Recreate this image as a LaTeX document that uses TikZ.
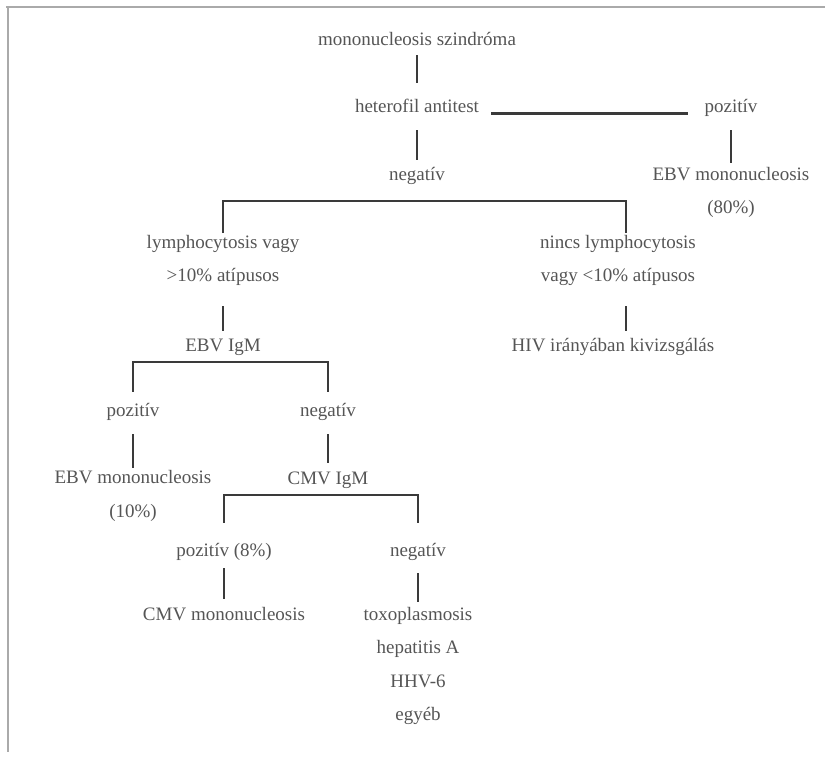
\documentclass[tikz,border=0pt]{standalone}
\usepackage{fontspec}
\setmainfont{Liberation Serif}
\definecolor{txtgrey}{HTML}{555555}
\definecolor{inkgrey}{HTML}{3A3A3A}
\definecolor{rulegrey}{HTML}{AAAAAA}

\begin{document}
\begin{tikzpicture}[x=1pt,y=-1pt,
  lbl/.style={inner sep=0pt,text=txtgrey,font=\fontsize{19}{33.5}\selectfont,
    text height=13pt,text depth=4pt,anchor=base},
  multi/.style={inner sep=0pt,text=txtgrey,font=\fontsize{19}{33.5}\selectfont,
    align=center,anchor=base},
  link/.style={draw=inkgrey,line width=1.8pt,shorten <=13pt,shorten >=8pt},
  fork/.style={draw=inkgrey,line width=2.2pt,shorten <=#1,shorten >=#1},
  hbar/.style={draw=inkgrey,line width=2.6pt,shorten <=12pt,shorten >=16pt}]
  \useasboundingbox (0,0) rectangle (825,759);
  % frame
  \draw[rulegrey,line width=1.6pt] (6,7) -- (825,7);
  \draw[rulegrey,line width=1.6pt] (8,7) -- (8,752);

  % multi-line nodes sit on the baseline of their last line
  \node[lbl]   (mono)    at (417,46)  {mononucleosis szindróma};
  \node[lbl]   (het)     at (417,113) {heterofil antitest};
  \node[lbl]   (poz1)    at (731,113) {pozitív};
  \node[lbl]   (neg1)    at (417,181) {negatív};
  \node[multi] (ebv1)    at (731,214) {EBV mononucleosis\\(80\%)};
  \node[multi] (ly1)     at (223,282) {lymphocytosis vagy\\>10\% atípusos};
  \node[multi] (ly2)     at (618,282) {nincs lymphocytosis\\vagy <10\% atípusos};
  \node[lbl]   (ebvigm)  at (223,352) {EBV IgM};
  \node[lbl]   (hiv)     at (613,352) {HIV irányában kivizsgálás};
  \node[lbl]   (poz2)    at (133,417) {pozitív};
  \node[lbl]   (neg2)    at (328,417) {negatív};
  \node[multi] (ebv2)    at (133,517) {EBV mononucleosis\\(10\%)};
  \node[lbl]   (cmvigm)  at (328,484) {CMV IgM};
  \node[lbl]   (poz3)    at (224,556) {pozitív (8\%)};
  \node[lbl]   (neg3)    at (418,556) {negatív};
  \node[lbl]   (cmvmono) at (224,620) {CMV mononucleosis};
  \node[multi] (egyeb)   at (418,720.5) {toxoplasmosis\\hepatitis A\\HHV-6\\egyéb};

  \coordinate (fork1) at (417,201);
  \coordinate (fork2) at (223,362);
  \coordinate (fork3) at (328,495);
  \coordinate (rcol)  at (626,0);

  \draw[link,shorten <=5pt,shorten >=17pt] (mono) -- (het);
  \draw[link] (het) -- (neg1);
  \draw[hbar] ([yshift=-5pt]het.east) -- ([yshift=-5pt]poz1.west);
  \draw[link,shorten >=4pt] (poz1) -- (ebv1);
  \draw[fork=2pt] (ly1.north) |- (fork1) -| (ly2.north -| rcol);
  \draw[link,shorten <=20pt] (ly1) -- (ebvigm);
  \draw[link,shorten <=20pt] (ly2.south -| rcol) -- (hiv.north -| rcol);
  \draw[fork=12pt] (poz2.north) |- (fork2) -| (neg2.north);
  \draw[link,shorten >=2pt] (poz2) -- (ebv2);
  \draw[link] (neg2) -- (cmvigm);
  \draw[fork=20pt] (poz3.north) |- (fork3) -| (neg3.north);
  \draw[link,shorten <=8pt] (poz3) -- (cmvmono);
  \draw[link,shorten >=5pt] (neg3) -- (egyeb);
\end{tikzpicture}
\end{document}
